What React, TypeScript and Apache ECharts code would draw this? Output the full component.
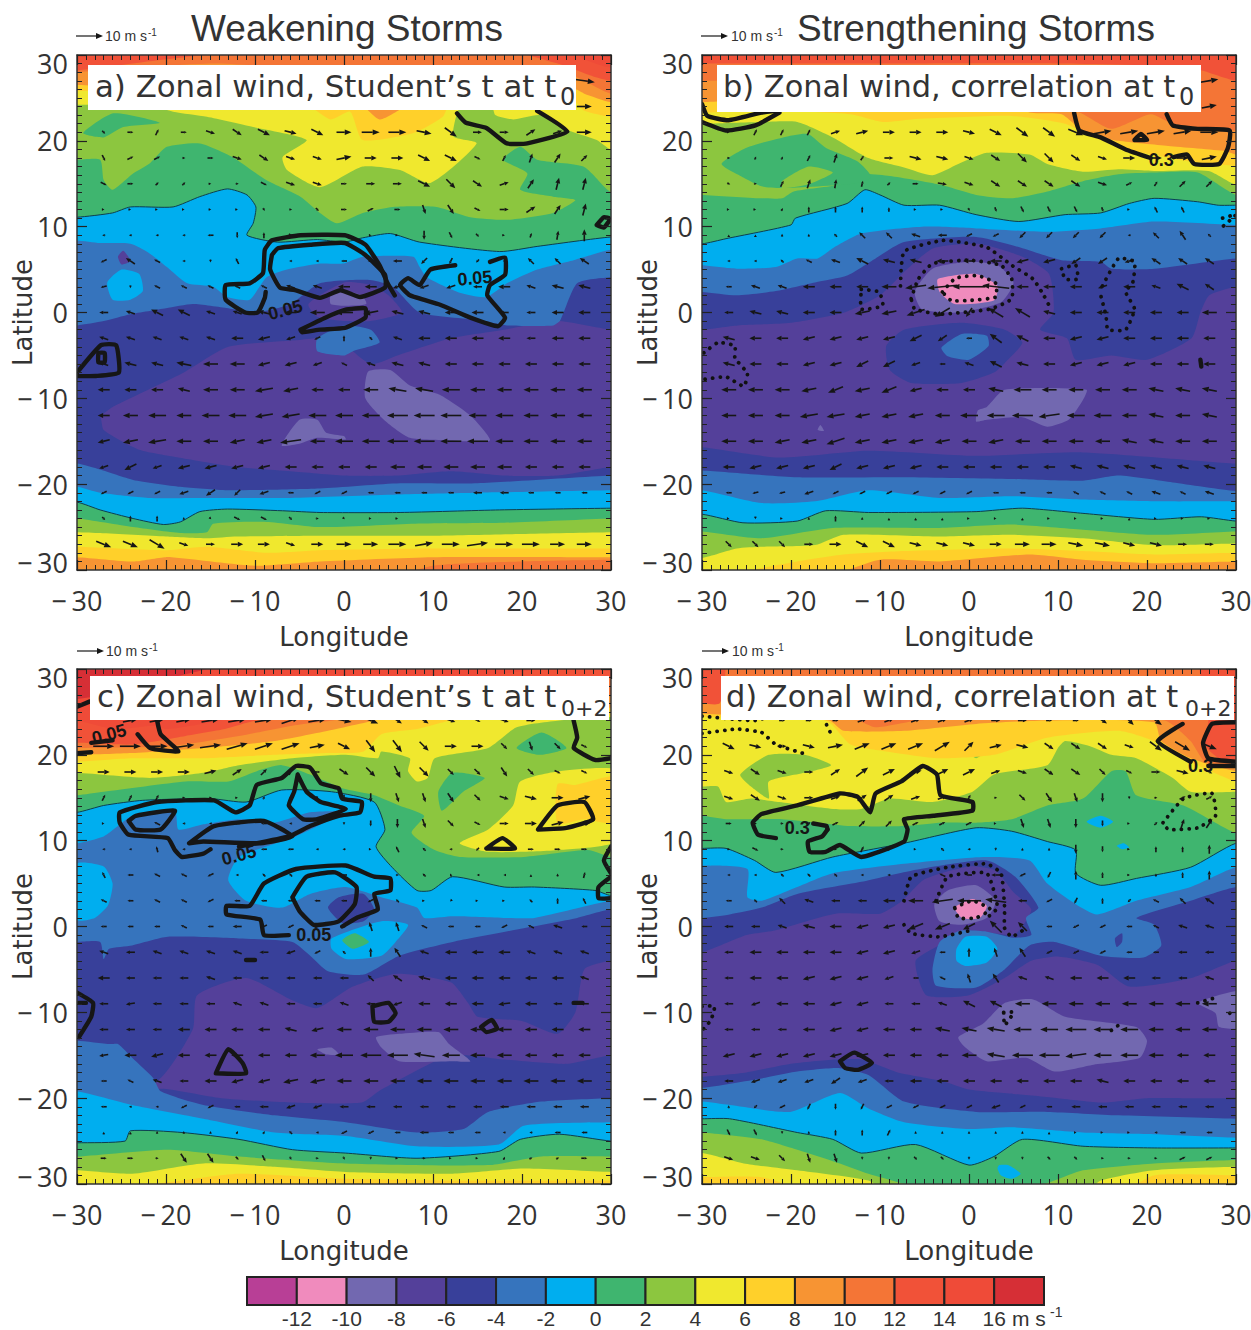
import React, { useEffect, useRef } from "react";
import * as echarts from "echarts";

const LEVELS = [-14, -12, -10, -8, -6, -4, -2, 0, 2, 4, 6, 8, 10, 12, 14, 16];
const LEVEL_COLORS = ["#b83f96", "#f08bbd", "#7268b0", "#54409a", "#38409a", "#3674bd", "#00aeef", "#3fb56f", "#8cc63f", "#f0e82e", "#ffd02a", "#f79433", "#f47536", "#f15238", "#ef4b38", "#d62f36"];
const LEGEND_TICKS = [-12, -10, -8, -6, -4, -2, 0, 2, 4, 6, 8, 10, 12, 14, 16];
const WIND_LONS = [-27, -24, -21, -18, -15, -12, -9, -6, -3, 0, 3, 6, 9, 12, 15, 18, 21, 24, 27];
const WIND_LATS = [21, 18, 15, 12, 9, 6, 3, 0, -3, -6, -9, -12, -15, -18, -21, -24, -27];

// kind N: filled northwards of the curve, S: southwards of it, B: closed patch. [kind, level, lon,lat,...]
const fillsA: any[] = [
  ["N", -6, [-27.5,-12,-26,-11,-22,-9,-18,-7,-13,-4,-5,-3.2,-1,-3,3,-6,6,-5,12,-3,18,-2,24,-1,30,-2]],
  ["S", -6, [-27.5,-12,-27,-13.7,-23,-16,-18,-17,-12,-18,-6,-18.5,0,-19,6,-19,12,-18.5,18,-19,24,-19,30,-18]],
  ["N", -4, [-30,-1.5,-27,-1,-24,-0.2,-20,0.5,-17,1,-13,0.5,-10,0,-6,1,-2.7,3.4,2.9,3.8,5.5,3,8.5,0,15.3,-0.9,18.3,-1.5,23.5,-1.5,24.3,-0.9,26.2,3.4,30,4.1]],
  ["S", -4, [-30,-17.6,-27.4,-18.3,-23.7,-19.5,-18.4,-20.3,-13.1,-20.7,-2.7,-20.5,6.3,-19.9,15,-19.9,30,-19]],
  ["N", -2, [-30,8.4,-27.4,8.1,-24,8,-22,7,-19.9,5.3,-17.6,3.4,-14.7,3,-13.1,1.8,-10.6,1.5,-8.7,4.1,-6.4,5,-2.7,5.7,-0.1,5.7,2.1,6.5,7.8,6.5,8.5,5.3,9.3,4.1,13,2.3,16,1.8,18.3,3.4,21.7,5,25.8,6.1,30,7.3]],
  ["S", -2, [-30,-20.3,-27.4,-21,-22,-21.6,-16,-21.6,-6,-21.6,6,-21.2,15,-21,30,-20.7]],
  ["N", 0, [-30,11.1,-26,11.6,-24,12.3,-19.2,12.3,-16.2,13.5,-13.1,14.4,-10.9,13.7,-9.9,12.3,-10.2,10.4,-10.9,9,-7.5,8.2,-3,8.5,0,8.2,2.1,8.7,5.2,9.2,8.5,8.2,17.5,7.1,21.7,7.7,30,8.8]],
  ["S", 0, [-30,-22.1,-27.4,-23,-23.7,-24,-20.3,-24.7,-18.4,-24.4,-16.2,-23.2,-13.1,-22.9,-6.9,-23.1,-2.7,-23.3,6.3,-23.3,17.5,-23,30,-22.8]],
  ["N", 2, [-30,17.8,-27.4,17.8,-27,15.4,-26,14.3,-23.7,16.2,-21.8,17.4,-19.9,19.3,-16.2,19.7,-12.5,18.1,-8.7,15.4,-4.9,13.5,-2.7,11.6,-0.8,10.4,2.1,11.6,5.5,12.3,10.4,12.3,14.2,11.1,18.3,10.8,23.5,11.6,26,13.1,23.5,13.5,19.8,14.3,20.6,16.2,17.9,17.8,19.8,19.3,21.7,17.8,26.9,17,29.6,14.3,31,13.5]],
  ["S", 2, [-30,-24,-23.7,-25,-18.4,-25.7,-15.4,-25.6,-14.7,-24.6,-8.7,-24.4,-2.7,-25,8,-24.6,18,-24.5,30,-24]],
  ["B", 0, [-29.3,20.9,-25.9,23.2,-20.7,22.1,-24.8,21.6,-27,20.4]],
  ["N", 4, [-30,24.2,-22,24.2,-19.2,23.4,-15.4,22.8,-10.2,21.6,-4.2,20.1,-6.9,18.1,-6.4,16.6,-2.7,14.6,2.1,17,6.3,16.6,9.7,15.1,14.9,19.7,12.3,20.5,12.7,23.2,13.5,24.5,16.5,24.5,17,23,19,22.5,22,23,25,21.3,28.4,20.1,30,19]],
  ["S", 4, [-30,-25.6,-27.4,-25.7,-20,-26.1,-15.4,-26.3,-12,-26.1,-2.7,-26,10,-26,20,-25.8,30,-25.6]],
  ["N", 6, [-30,25.8,-28,25.8,-15,25,-4,24,-1.5,22.5,0.7,23.4,2.1,20.1,7.8,20.9,11.1,22.8,12,24.5,22,26,26,24.5,27,23.5,30,22.8]],
  ["S", 6, [-30,-27.3,-20,-27.7,-15.4,-27.3,-8.7,-28,-2.7,-27.7,10,-27.5,30,-27.5]],
  ["N", 8, [-30,26.5,-20,26,1,25,4,22.5,7,24,15,26,26,26,27,25.5,30,24.5]],
  ["S", 8, [-30,-28.5,-23.7,-29,-20,-28.5,-16,-28.9,-10,-29.5,-2.7,-29,10,-28.5,30,-28.5]],
  ["N", 10, [-30,28,-15,29,-5,28.5,15,28.5,24,28,26,27.5,30,25.5]],
  ["S", 10, [-5,-32,5,-31,10,-29.5,20,-29,30,-28.8]],
  ["N", 12, [-30,28.2,-20,29.5,-10,30.5,18,30.5,24,29,28,27.5,30,27]],
  ["N", 14, [25,31,27,29.5,30,28.5]],
  ["B", -2, [-26.6,3.5,-25,5,-23,4.5,-22.6,2.5,-24,1.5,-26,1.5]],
  ["B", -4, [-3,-3,0,-1.5,3,-2,4,-3.5,1,-4.5,0,-5,-3,-4.5]],
  ["B", -8, [-4,1,0,3.5,3,3.2,5,2,6.5,0,3,-1,0,-1,-3,-0.5]],
  ["B", -10, [-1.5,2,0,2.5,2,2,2.5,1,0,0.8,-1.5,1]],
  ["B", -10, [2.7,-6.9,5.2,-6.7,7.4,-8.5,10.8,-9.6,14.2,-12,16.4,-14.9,11.9,-14.9,7.4,-14.6,4.6,-12.6,2.4,-10]],
  ["B", -10, [-7,-15.5,-5,-12.5,-3,-12.5,-2,-14,0,-14.4,0.2,-14.8,-3,-14.6,-5,-15.3]],
  ["B", -8, [-25.4,6.5,-24.8,7.2,-24,6,-25,5.6]],
];

const fillsB: any[] = [
  ["N", -6, [-30,-2,-26,-1.5,-20,-1.2,-14,0,-10,2,-7,5,-4,7.5,1,8,6,6.5,9,4.5,9.5,0,8,-2,11,-3,12,-5.5,16,-5,20,-5.5,25,-3,26,0,27,2,30,3]],
  ["S", -6, [-30,-15.7,-21.3,-16.9,-11.3,-16.1,0.8,-16.7,12.8,-16.3,30,-17.6]],
  ["N", -4, [-30,2.4,-26.1,2,-21.7,2.5,-17.3,3.5,-13.7,4.3,-10.5,6.3,-7.3,8.2,0.8,8.8,6,7.5,10.4,6.1,14.8,5.9,16,5.1,20.8,5.1,30,6.3]],
  ["S", -4, [-30,-18.4,-19.3,-19.2,-7.3,-19.2,4.8,-19.4,12.8,-19.6,16.8,-19,22.9,-19.8,30,-20.8]],
  ["N", -2, [-30,5.5,-26.1,5.1,-21.7,5.3,-19.3,6.3,-17,6.3,-15.3,7.5,-12.1,9.2,-5.3,10,0.8,9.8,8.8,9.4,14.8,9.8,20.8,10.6,30,10.2]],
  ["S", -2, [-30,-20.7,-23.3,-22.2,-17.3,-22,-11.3,-20.7,-3.3,-21.6,4.8,-21.4,12.8,-21.8,20.8,-22,30,-22]],
  ["N", 0, [-30,8,-27.3,8.6,-20,10.2,-19.5,11,-13.7,12.7,-11.7,14.3,-10,13.7,-7.3,12.5,-3.3,12.5,0.8,11.4,5.6,10.6,10.8,11.4,14.8,11.6,18,12.7,20.8,13.3,25.7,12.9,28,12.5,30,12.5]],
  ["S", 0, [-30,-23.5,-25.4,-24.5,-19.3,-24.3,-16.1,-23.1,-11.3,-23.3,0.8,-23.2,6,-22.8,12.8,-23.4,20.8,-24.1,26.1,-23.8,30,-24.3]],
  ["N", 2, [-30,13.7,-23.3,13.3,-21,13.3,-19.7,14.1,-14.5,14.9,-12.1,16.1,-8.9,15.9,-3.3,14.9,0.8,13.7,4.8,13.3,8.8,14.1,12.8,15.3,16.8,16.1,20.8,16.3,25.7,16.3,30,13.7]],
  ["S", 2, [-30,-25.5,-23.3,-26.3,-15.3,-25.1,-3.3,-25.1,4.8,-24.7,12.8,-25.3,20.8,-25.9,30,-25.5]],
  ["B", 0, [-27.8,17.3,-25,19.2,-20.9,20.4,-18.1,20.8,-16.1,19.2,-12.5,17.6,-11,15.8,-13,15,-21,14.5,-23.3,14.7,-25.3,15.7]],
  ["B", 2, [-21,15.3,-18,17,-15.3,16.3,-18.1,14.9,-21,14.5]],
  ["N", 4, [-30,22,-23.3,22.2,-19.3,22.2,-15.3,20.4,-11.3,18,-7.3,16.9,-4.1,16,-1.2,17.3,2,18.6,6.8,18.4,8.8,17.3,12.8,16.4,16.8,16.7,20.8,16.5,26.9,16.5,30,14.9]],
  ["S", 4, [-30,-28.6,-26.1,-27.5,-23.3,-27.3,-17.3,-27.1,-14.1,-25.9,-3.3,-26.1,4.8,-25.9,12.8,-26.3,20.8,-27.1,30,-26.9]],
  ["N", 6, [-30,23.3,-21.3,23.5,-13.3,23.1,-9.7,22.2,-6.5,22.5,4.8,22.9,10.8,22,14,20.4,18.8,18.8,24.9,17.6,30,17.1]],
  ["S", 6, [-30,-31,-19.3,-29,-14.1,-28.2,-7.3,-27.8,4.8,-27.5,12.8,-27.8,20.8,-28.2,30,-28]],
  ["N", 8, [-30,24.5,-20,25,0,26,6.8,23.3,10.4,23.1,13.2,20.8,16.8,20,22.4,19.4,28.9,18.8,30,18.4]],
  ["S", 8, [-30,-32,-15.3,-30.5,-10,-28.8,-3.3,-29,6.8,-28.2,12.8,-28.8,20.8,-29.2,30,-29]],
  ["N", 10, [-30,27,0,27,12.4,23.3,16,21.4,20.4,23.1,22.9,22,30,21.2]],
  ["N", 12, [-30,29,-10,29,10,29,25,28.5,30,27]],
  ["B", -6, [-9.3,-3.9,-7.3,-2,-0.8,-1.2,4,-2,6,-3.5,4,-5.9,2.8,-7,-0.8,-8.2,-6.5,-8.2,-8.9,-6.7]],
  ["B", -4, [-3.1,-4.1,-0.8,-2.5,2,-2.7,2.2,-3.9,0,-5.5,-2.4,-5.1]],
  ["B", -10, [-6.1,2.4,-4.1,5.1,0,5.9,3.2,5.5,5,3.5,3.6,1.2,-1.2,0,-5.3,0.4]],
  ["B", -12, [-3.5,3.9,0.8,4.5,3.2,3.1,2.8,1.4,-1.6,1,-3.3,2.4]],
  ["B", -10, [2,-11,4,-9,13.2,-9,12.8,-10.2,11.2,-12.5,8.8,-13.3,6,-12.2,2,-12.5,0.8,-12.7,1,-11.4]],
  ["B", -10, [-17,-13.7,-16.7,-13.1,-16.3,-13.8]],
];

const fillsC: any[] = [
  ["N", -6, [-30,-20,-21,-18,-17,-12,-16.5,-8,-11,-6,-6,-8.5,-3,-9.5,1,-7,6,-5.5,12,-6.5,14,-9,15,-10.5,20,-11,24,-12.5,26,-10,27,-5,30,-4]],
  ["S", -6, [-30,-20,-20.6,-18.9,-13.8,-20,-6,-20.5,2,-20.5,4.2,-19,12,-15,18,-15.5,25,-16,30,-15]],
  ["N", -4, [-30,-1.8,-27.4,-1.8,-27,-3.8,-26.4,-2.6,-23.8,-2.2,-19.8,-1.2,-11.8,-1.4,-5.8,-1.8,-3.8,-3.4,-1.8,-5.2,2.2,-5.6,6.2,-3.4,12.2,-1.8,20.2,-0.2,26.2,1,30,2]],
  ["S", -4, [-30,-13.3,-26.2,-13.7,-25.4,-13.7,-23.8,-15.3,-21.4,-17.7,-20.6,-19.2,-15.8,-20.8,-7.8,-22,0.2,-22.8,8.2,-24,13.4,-23.6,16.2,-21.6,22.2,-20.4,30,-20]],
  ["N", -2, [-30,9.7,-27,10.5,-25.4,11.7,-23.8,12.9,-19,13.3,-18.6,11.3,-15.8,11.9,-11.8,12.5,-7.8,12.1,-3.8,13.3,-0.2,13.3,-5.4,10.5,-11.8,8.1,-13,5.4,-11,3,-7,2.2,-3.8,3.8,0.2,4.6,4.2,3.4,8.2,2.2,9,1,12.2,1.2,18.2,1,21.4,1,30,3]],
  ["S", -2, [-30,-19.2,-23.8,-20.8,-15.8,-22.4,-7.8,-24,0.2,-24.4,8.2,-25.6,17.4,-25.4,20.2,-23.2,30,-22.8]],
  ["N", 0, [-30,13.3,-27,14.1,-22.6,14.7,-15,14.9,-11,14.5,-7,15.9,-1.4,15.7,3.4,14.5,4.6,11.3,3.6,9.3,5.4,6.9,8.2,4.2,9.8,4.2,12.2,5.8,18,4.6,21.4,4.6,28.2,4.2,30,3.6]],
  ["S", 0, [-30,-25.2,-24.6,-25,-24,-23.8,-18.2,-24,-11.8,-24.8,-5.8,-26,0.2,-26.4,8.2,-27,17.4,-26.2,19.8,-24.8,24.2,-24.2,30,-25]],
  ["N", 2, [-30,15.3,-27,15.7,-17.8,16.9,-13,16.9,-9.8,18.1,-7,18.8,-3.8,17.7,-0.2,16.1,3.4,15.3,6.2,14.1,9,12.9,7.6,10.9,10.2,8.9,13,8.1,20.2,8.1,27.4,8.9,30,8.1]],
  ["S", 2, [-30,-26.8,-19.8,-26,-11.8,-26.8,0.2,-27.6,16.2,-27.8,22.2,-26.8,30,-26.8]],
  ["B", 0, [10.6,15.7,12.2,17.9,15.8,17.3,13.4,15.7,11,13.5]],
  ["B", 0, [19.4,20.8,22.2,22.6,25,20.8,22,20]],
  ["N", 4, [-30,17.9,-21.8,17.3,-15.8,17.9,-11.8,18.8,-5.8,19.6,0.2,20,3.8,19.6,4.2,20.4,7.4,19.6,7.2,18.1,8.2,16.9,9.4,17.3,10.2,19.6,16.2,20.8,19.4,23.2,24.2,24,30,24.4]],
  ["S", 4, [-30,-28.4,-23.8,-28.8,-15.8,-27.6,-7.8,-28,0.2,-28.6,12.2,-28.8,20.2,-28.2,30,-28.6]],
  ["B", 4, [13,9.7,16.2,11.3,19,14.1,19.8,16.9,24.2,18.1,31,18.1,31,10.1,24.2,8.9,16.2,8.7]],
  ["N", 6, [-30,19.2,-23.8,19.6,-15.8,19.6,-7.8,20,-1.8,20.2,2.2,20.4,4.2,22.4,8.2,23,12.2,24,30,24.6]],
  ["S", 6, [-30,-31,-19.8,-29.8,-11.8,-28.8,0.2,-29.4,12.2,-29.6,30,-29.6]],
  ["B", 6, [24,16.6,26,16.5,31,17.5,31,12,27,12.5,24,12]],
  ["N", 8, [-30,20,-23.8,20.2,-15.8,20.8,-7.8,21.6,-1.8,22.8,4.4,24.2,8.2,24.8,30,25.5]],
  ["N", 10, [-30,20.8,-19.8,21,-11.8,22.2,-5.8,23.4,0.2,24.2,10,26,30,27]],
  ["N", 12, [-30,21.4,-23.8,21.2,-17.8,22.2,-13.4,23,-9.8,24,-3.8,24.4,10,27,30,29]],
  ["N", 14, [-30,24,-25.8,23,-21.4,23.4,-19.8,23,-13.8,24,-11,24.6,0,27,30,31]],
  ["N", 16, [-30,26.5,-27,27,-10,31]],
  ["B", -2, [-30,7.3,-27,7,-26,5,-26.5,2.5,-28,1,-30,0.8]],
  ["B", -2, [-1.4,-1.4,4.2,0.6,7.2,0.2,5.8,-1.8,4.2,-3.4,0.2,-3.8,-1.4,-2.6]],
  ["B", 0, [-0.2,-1.6,1.2,-0.8,2.8,-1.8,1,-2.6]],
  ["B", -6, [-1.8,2.2,-0.6,3.4,2.2,3.8,3.4,2,2.2,0.6,-0.2,0.4]],
  ["B", -10, [3.6,-12.9,6.2,-12.5,10.6,-12.3,11.8,-13.7,14.2,-15.7,12.2,-15.7,6.2,-15.7,4.2,-14.1]],
  ["B", -10, [-3,-14.3,-1.4,-14.1,-0.6,-14.9,-2,-14.9]],
];

const fillsD: any[] = [
  ["N", -6, [-30,-3,-25,-1,-22,-0.5,-15,1.5,-10,1.5,-7.5,3,-5,5.5,0,7,3,6.5,5,4,7,2,6,0,5,-1,0,-0.5,-3,-2,-6,-4,-4.8,-8,0,-8,4,-6,7,-4,10,-3.5,14.5,-4.5,18,-7,25,-6,30,-4]],
  ["S", -6, [-30,-17.5,-25,-17,-20,-16,-15,-15.5,-12,-15.5,-8,-17,-3,-18,0,-19,5,-19.5,10,-20,15,-20.5,20,-20,25,-20,30,-20]],
  ["N", -4, [-30,1,-26.9,1.4,-23.3,2.2,-19.3,3.8,-12.1,5.2,-6.5,6.5,2,7.7,5.2,5.8,7.8,2.2,6.4,1,7,-1,5,-1.3,2,-0.6,-1,-0.5,-3.3,-1.8,-4.1,-5,-3.7,-6.9,0.8,-7.1,4,-5,6.8,-2.2,9.6,-1.8,14.8,-3.4,19.6,-3.6,21.6,-2.2,20.8,0.2,18.8,1,24.9,3,30,4.6]],
  ["S", -4, [-30,-18.8,-23.3,-17.7,-19.3,-16.9,-14.5,-16.5,-11.3,-17.3,-7.3,-20.4,0.8,-21.6,8.8,-21.6,16.8,-22,30,-22.4]],
  ["N", -2, [-30,7.1,-24.9,6.7,-24.9,3.4,-23.3,3,-19.3,4.6,-15.3,6.2,-7.3,7.3,1.6,8.1,6.8,7.7,8.8,5,12,2.6,14.4,1.4,18.8,3,24.9,4.6,30,6.9]],
  ["S", -2, [-30,-20.4,-26.9,-20.8,-20.1,-21.6,-14.5,-19.4,-11.3,-21.2,-7.3,-22.8,0,-23.6,4.8,-23.4,12.8,-24,20.8,-24.2,30,-24.6]],
  ["N", 0, [-30,9.1,-27.3,9.1,-24.1,7.7,-21.7,6.3,-15.3,8.1,-7.3,9.7,0.8,11.5,4.8,11.1,8.8,9.9,12,8.9,12,6.2,14.8,4.8,18.8,5.6,24.9,6.9,30,9.7]],
  ["S", 0, [-30,-22.4,-26.9,-22.4,-19.3,-24,-15.3,-24.8,-12.1,-26.4,-6,-25.4,0,-27.8,2.8,-26.8,6,-24.8,12.8,-25.6,20.8,-25.8,30,-25.8]],
  ["N", 2, [-30,12.9,-27.3,12.5,-21,12.5,-13.3,11.7,-7.3,11.7,-3.3,12.1,0.8,12.1,4.8,12.5,8.8,14.1,12.8,14.9,16,18.1,17.6,18.1,18.8,15.3,24.1,14.1,30,10.9]],
  ["S", 2, [-30,-24,-23.3,-24.8,-19.3,-26,-14.5,-27.6,-11.3,-28.8,-5,-30.5,5,-31,9.6,-29.6,12.8,-28.4,20.8,-27.6,30,-27.2]],
  ["N", 4, [-30,16.3,-28.2,16.3,-27.3,14.5,-24.5,14.9,-21.3,14.5,-15.3,13.7,-12.1,13.7,-8.9,14.9,-4.1,14.5,0.4,15.7,2.8,17.7,8.8,18.8,10,20.8,10.8,21.6,13.6,21,16,20,18.8,19.6,22.9,17.3,24.9,15.7,30,15.7]],
  ["S", 4, [-30,-26.4,-25.3,-27.6,-19.3,-28.4,-11.3,-29.6,-9,-31,13,-31,14.8,-29.6,20.8,-28.4,30,-28]],
  ["B", 2, [-25.7,17.7,-22.5,20,-18.5,20,-15.5,18.8,-18.5,17.9,-22.5,16.9,-22.5,14.9,-24.5,16.3]],
  ["B", 2, [-0.2,20.4,0.8,20.8,1.6,20.2,0.8,19.6]],
  ["N", 6, [-30,24.4,-16.1,24,-13.3,21.2,-9.3,20.4,-3.3,19.6,2.8,20,8.8,22,16.8,22.8,20.8,21.6,24.9,19.2,30,16.9]],
  ["S", 6, [-30,-29.2,-23.3,-29.2,-19,-30.5,-10,-32,10,-32,17,-31,20.8,-29,30,-29]],
  ["N", 8, [-30,24.8,-15.7,24,-14.1,22.8,-7.3,22.8,0.8,23.6,8.8,24,20.8,23.8,21.6,21.6,24.9,19.6,30,18.1]],
  ["N", 10, [-30,26.8,-12.5,24,-10.5,23.2,-5.7,24,8.8,24.8,22,24,24.9,21.6,26.5,19.2,30,18.9]],
  ["B", 12, [-31,26.5,-28,26,-27.5,31,-31,31]],
  ["B", 12, [26,31,26.9,24,26.5,21.2,28.1,19.6,31,19.6,31,31]],
  ["B", -2, [-1.4,-2.6,-0.4,-1.2,2,-1.2,3.2,-2.6,2,-4.2,-0.4,-4.6,-1.4,-4]],
  ["B", -10, [-3.9,2.6,-2.4,4.2,0.8,4.8,3,3,2,1,-0.8,0.2,-3.3,0.6]],
  ["B", -12, [-1.6,2.2,0.4,3.2,2,2.4,1.2,1,-0.8,1]],
  ["B", -10, [-1.2,-12.9,1.6,-11.3,4,-8.9,7.2,-8.5,10.8,-10.5,18.8,-11.7,20,-13.3,19.2,-15.3,14,-16.1,9.6,-16.9,6.4,-15.3,2,-15.7,-0.4,-14.1]],
  ["B", -10, [25.7,-8.9,31,-7.5,31,-11.7,28.1,-11.7,27.7,-10.1]],
  ["B", -2, [13.2,12.2,14.8,12.9,16.2,12.2,14.8,11.5]],
  ["B", -2, [16.6,9.4,17.4,9.7,18,9.2,17.2,9]],
  ["B", -2, [3.4,-27.8,4.4,-27.8,5.8,-28.8,4.8,-29.4,3.6,-29,3.2,-28.2]],
  ["B", -6, [16.4,-1.4,17.2,-0.8,17.2,-1.8,16.6,-2.4]],
];

// [style, closed, lon,lat,...]  solid = significance contour, dot = correlation contour
const linesA: any[] = [
  ["solid", 0, [5.7,2,4.9,3.4,4,5.5,2.4,7.9,0.1,9,-4.9,9,-8.1,8.4,-8.9,7.3,-9.1,4.6,-10.6,3.4,-13.3,3.2,-13.3,1.5,-11.1,0,-9.7,0,-8.9,1.7,-8.8,2.4]],
  ["solid", 1, [-8.1,6.7,-7.4,7.5,-3.8,7.9,0.1,8.1,2.4,6.7,4.6,4.4,4.6,2.9,1.8,1.8,-0.4,2.6,-2.7,1.7,-5.5,2.6,-7.2,2.9,-8.3,5]],
  ["solid", 0, [12.5,5.5,9.7,5,8.5,3.2,7.2,4,6.3,3.2,7.4,2,10.8,0.9,14.2,-0.6,17.3,-1.6,18.1,-0.6,16.1,2,16.4,3.2,18.1,4.4,18.1,6.4,16.4,5.9]],
  ["solid", 1, [-4.9,-2,-2.1,-0.6,0.1,0.3,2.4,0.5,2.4,-0.6,0.1,-1.8,-2.7,-2,-4.7,-2.3]],
  ["solid", 0, [-30,-7,-27.3,-3.8,-25.6,-3.8,-25.3,-7,-27.9,-7.4,-30,-7.4]],
  ["solid", 1, [-27.6,-4.7,-26.9,-4.7,-26.9,-5.8,-27.6,-5.8]],
  ["solid", 0, [12.7,23.2,13.7,22.1,16,21.5,18.3,19.7,20.6,19.7,25.1,21.1,21.7,23.5]],
  ["solid", 1, [28.4,10.2,29.2,11.1,29.9,10.9,29.2,9.9]],
];
const labelsA: any[] = [["0.05", -6.6, 0.3, 15], ["0.05", 14.7, 4, 5]];

const linesB: any[] = [
  ["solid", 0, [-30,24.3,-29.4,22.9,-27,22.4,-23.3,23.3,-21.5,23.5]],
  ["solid", 0, [-30,22.2,-27.3,21.2,-24,21.8,-21.3,23.3]],
  ["solid", 0, [11.8,23.3,12.4,21.2,14.8,20.4,17.6,19,20.4,18]],
  ["solid", 0, [23,18.1,24.5,18.4,25.3,17.3,28.1,17.3,29.1,19.2,29.3,21.2,25.7,21.4,22.9,21.8,22.2,23.1]],
  ["solid", 1, [18.6,20.1,19.3,20.8,20,20.1]],
  ["dot", 0, [-7.7,3.1,-7.3,7.1,-2.9,8.4,2,7.6,4.8,5.5,7.2,3.9,8.4,2,9.2,0.4]],
  ["dot", 1, [-6.5,1.6,-5.7,3.9,-4.1,5.7,0,6.1,3.6,5.5,4.8,3.9,4.8,1.6,2.4,0.4,-3.3,-0.2,-6.1,0.4]],
  ["dot", 1, [-3,2.4,-1.5,4,1,4.3,3,3.4,3,1.8,0,1.4,-2,1.4]],
  ["dot", 1, [-12.1,2.7,-10.1,2.4,-9.7,0.8,-12.1,0.4]],
  ["dot", 1, [10.4,5.1,12,5.5,12.2,3.9,10.8,3.9]],
  ["dot", 0, [15,3.1,16.8,6.3,18.6,5.9,18.4,3.5,17.6,2.4,18.6,0.4,17.6,-2,15.6,-2,15.4,-0.4,14.8,2]],
  ["dot", 0, [-29.8,-4.7,-28.2,-3.5,-26.3,-3.9,-26.3,-5.3,-24.9,-7.1,-25.3,-8.6,-27.3,-7.5,-29.8,-7.8]],
  ["dot", 0, [28.5,11,30,11.4,28.5,10]],
  ["solid", 0, [26,-5.5,26.1,-6.3]],
];
const labelsB: any[] = [["0.3", 21.6, 17.8, 0]];

const linesC: any[] = [
  ["solid", 0, [-15,9,-15.8,8.5,-18.2,8.1,-19,8.9,-19.8,10.3,-24.2,10.7,-25.2,12.1,-25.2,13.3,-21,14.5,-14.6,14.7,-12.2,13.3,-10.6,14.1,-9.8,16.5,-7,17.3,-5.4,18.7,-3.8,18.5,-2.6,16.7,-0.6,16.1,-0.2,14.9,2,14.5,1.8,13.3,-0.6,12.9,-3.8,11.7,-6.2,10.5,-11.8,9.3]],
  ["solid", 1, [-24.2,12.3,-23.4,12.9,-19,13.5,-20.6,11.3,-23.4,11.3]],
  ["solid", 1, [-17.4,9.7,-14.6,11.7,-9,12.3,-5.8,10.5,-9.4,9.7,-15.8,9.9]],
  ["solid", 1, [-5.2,17.7,-4.2,15.7,-2.6,14.5,0.2,13.7,-3,12.5,-4.6,12.5,-6.2,14.1,-5.6,15.7]],
  ["solid", 0, [-6.2,-1,-9,-1,-9.4,0.8,-13.2,1.4,-13.2,2.4,-10.6,2.4,-9,5,-5.4,6.7,0.2,7.1,3.4,5.8,5.2,5.6,5.2,4.2,3.4,3.8,3.8,2,1.4,1,-0.2,0]],
  ["solid", 1, [-5.8,3.4,-4.2,5.8,-1,6.3,1.4,4.6,1.2,2.6,-0.6,0.6,-3.4,0.2,-5,1.8]],
  ["solid", 0, [-28.4,21.4,-26,21.7]],
  ["solid", 0, [-23.2,22.4,-21.8,20.8,-18.6,20.4,-20.6,22.4,-21,24]],
  ["solid", 0, [-30,20.2,-28.4,20.3]],
  ["solid", 0, [-30,25.6,-28.6,26.2]],
  ["solid", 0, [25.8,24,26.2,22,25.8,20.8,28.2,19.4,30,19.6]],
  ["solid", 1, [21.8,11.3,24,14.1,27,14.5,28,12.5,25,11.5]],
  ["solid", 1, [16,9.1,17.8,10.3,19.2,9.1]],
  ["solid", 0, [30,9.3,29.2,7.7,30,6.2]],
  ["solid", 0, [30,5.8,28.6,4.6,28.6,3.3,30,3.3]],
  ["solid", 1, [3.2,-9.3,5,-8.9,5.8,-10.1,5,-11.1,3.4,-11.1]],
  ["solid", 1, [15.4,-11.7,16.6,-10.9,17.2,-11.9,16,-12.3]],
  ["solid", 1, [-14.4,-17.1,-13,-14.3,-11.4,-15.9,-11,-17.1]],
  ["solid", 0, [-30,-7.7,-28.2,-8.9,-28.4,-10.5,-29.8,-12.9]],
  ["solid", 0, [-11,-3.9,-10,-3.9]],
  ["solid", 0, [25.8,-8.9,26.8,-8.9]],
  ["solid", 0, [-29.8,-8.9,-29,-8.9]],
];
const labelsC: any[] = [["0.05", -26.4, 22.4, 15], ["0.05", -11.8, 8.3, 15], ["0.05", -3.4, -1, 0]];

const linesD: any[] = [
  ["solid", 0, [-15.9,11.3,-16.5,10.5,-18.1,9.9,-17.9,8.7,-16.1,8.7,-14.5,9.5,-12.1,8.1,-7.3,9.9,-6.9,11.3,-7.3,12.5,-4,12.9,0.4,13.5,0.4,14.5,-3.2,15.3,-3.6,17.7,-5.2,18.7,-7.6,16.9,-10.5,15.5,-11.1,13.3,-12.5,15.1,-14.5,15.5,-19.3,14.1,-23.3,13.1,-24.3,12.1,-23.7,10.7,-21.7,10.3]],
  ["solid", 0, [-17.5,12,-16,11.7,-15.9,11.3]],
  ["solid", 0, [24,23.6,21.2,21.6,24.9,19.2]],
  ["solid", 0, [30,23.8,27.3,23.6,26.3,21.4,26.9,19.6,30,19.2]],
  ["solid", 0, [26.9,18.7,30,18.7]],
  ["solid", 1, [-14.5,-15.7,-12.9,-14.7,-10.9,-15.9,-12.5,-16.7,-13.9,-16.5]],
  ["dot", 0, [-30,22.5,-26.1,23,-23.3,22.6,-21.7,21.2,-18.1,20]],
  ["dot", 0, [-30,24.5,-27,24.2,-24,24,-22,24.6]],
  ["dot", 0, [-16,23.5,-15.3,22]],
  ["dot", 0, [-7.3,3,-6.5,5.8,-2.4,6.9,2,7.3,3.6,6.2,4,2.2,4,-0.2,4.8,-1.2,6.4,-0.2]],
  ["dot", 0, [-7.3,0.2,-6.5,-0.8,-3.3,-1.2,0,-0.5]],
  ["dot", 0, [-3.7,3,-2.4,5.8,2,6.2,3.2,2.2,2,1]],
  ["dot", 1, [-1.6,2.2,0.4,3,2.4,2,0.8,1,-1.2,1]],
  ["dot", 1, [21.8,12.1,24.1,14.9,27.3,15.5,27.7,12.9,25.7,11.5,22.4,11.3]],
  ["dot", 0, [-30,-9.3,-28.6,-9.3,-29,-10.9,-30,-12.1]],
  ["dot", 1, [3.9,-10,5,-10,4,-11.5]],
  ["dot", 0, [16,-12.1,16.8,-11.5]],
  ["dot", 0, [25.7,-8.9,27.7,-8.3]],
  ["dot", 0, [29.3,-10.1,29.8,-10.8]],
];
const labelsD: any[] = [["0.3", -19.3, 11.5, 0], ["0.3", 26, 18.7, 0]];

// rows follow WIND_LATS, u,v pairs follow WIND_LONS
const windA = [
  [1,-1,2,0,1,2,2,0,3,-1,3,-2,4,-2,4,-1,4,-2,5,0,6,0,6,0,5,-1,4,-3,3,0,3,0,3,2,3,1,5,0],
  [1,-2,2,1,2,1,1,0,2,0,3,-1,3,-2,3,-1,3,-1,5,1,4,0,4,0,4,-2,4,-2,2,-1,1,2,1,3,2,3,2,2],
  [2,-1,2,0,1,1,1,1,0.5,0,1,0,2,-1,3,-1,3,-1,2,0,3,0,3,0,4,-2,3,-3,3,-2,3,1,2,3,1,4,1,4],
  [0.5,0,0.5,0,0.5,0,0.5,0,0.5,0,0.5,0,0.5,-1,1,0,1,-1,2,0,2,1,2,0,1,-3,2,-3,2,-1,3,0,3,2,2,3,1,4],
  [-1,0,-1,0,-1,0,-1,0,-2,0,0,-2,0,2,1,-1,1,-1,-1,0,0.5,0,0.5,0,0,-3,1,-2,1,-1,0.5,0,0.5,1.5,0.5,3,0,4],
  [-2,-1,-3,2,-2,1,-1,0,0,-1,-1,2,-1,1,-1,0,-1,0,-2,0,-2,0,-3,0,-2,-2,-1,-2,-1,-1,-1,0,-2,2,-2,2,-3,2],
  [-2,-0.5,0,-1,-2,1,-2,1,-2,1,-2,1,-2,1,-3,1,-3,1,-4,0,-4,0,-3,-1,-3,-1,-3,-1,-3,0,-4,0,-3,1,-4,1,-4,1],
  [-3,0,-3,1,-4,2,-4,2,-3,1,-3,1,-4,1,-4,0,-5,0,-6,0,-5,-1,-4,1,-4,1,-4,0,-4,0,-3,0,-3,0,-4,0,-4,0],
  [-3,1,-3,1,-3,1,-3,1,-3,1,-4,0,-4,-1,-3,-1,-2,-1,0,2,-1,1,-3,1,-4,0,-4,0,-4,0,-4,0,-3,0,-4,0,-4,0],
  [-3,1,-4,1,-4,1,-5,1,-5,0,-5,0,-4,-1,-4,-1,-3,-1,-2,1,-3,1,-4,1,-4,1,-4,0,-4,0,-4,0,-4,0,-4,0,-4,0],
  [-4,0,-4,0,-4,0,-4,1,-5,0,-5,0,-6,-1,-5,-1,-4,0,-4,0,-5,0,-6,1,-6,1,-6,0,-5,0,-5,0,-5,0,-5,0,-5,0],
  [-4,0,-5,0,-6,0,-5,0,-6,0,-6,0,-6,-1,-6,-1,-6,0,-6,0,-6,0,-7,0,-7,0,-7,0,-6,0,-6,0,-5,0,-5,0,-5,0],
  [-4,-1,-5,-1,-6,-1,-5,0,-5,0,-5,-1,-5,-1,-7,-1,-5,0,-6,0,-6,0,-7,0,-7,0,-7,0,-7,0,-6,0,-5,0,-5,0,-5,0],
  [-3,-1,-4,-2,-3,-1,-4,-1,-4,-1,-4,-1,-4,-1,-4,0,-4,0,-4,0,-4,0,-5,0,-5,0,-5,0,-5,0,-5,0,-4,0,-4,0,-4,0],
  [-2,-1,-2,-1,-2,-1,-3,-1,-3,-2,-2,-2,-3,-1,-2,0,-2,-1,-2,-1,-2,0,-2,0,-2,0,-2,0,-3,0,-3,0,-2,0,-2,0,-2,0],
  [1,-1,0,2,0,2,0,1,0.5,-0.5,2,-1,2,-1,1,-1,1,0,0.5,-0.5,0.5,0,0.5,0,0,0,0,0,0,0,0,0,0,0,0,0,0,0],
  [5,-2,5,-2,5,-3,3,-1,3,0,4,0,4,0,3,-1,4,0,5,0,5,0,6,0,6,1,6,0,7,1,6,0,6,0,5,0,5,0],
];
const windB = [
  [0.5,0,1,2,1,2,1,2,3,1,4,1,4,0,4,0,4,0,4,-1,4,-2,4,-3,4,-3,5,-2,6,1,6,1,6,1,6,1,6,0],
  [1,0,0.5,1,0.5,1,1,2,1,3,1,1.5,3,0,4,-1,4,-1,3,-1,3,-2,3,-3,3,-3,3,-2,3,-1,4,0,4,0,4,0,5,1],
  [1,-0.5,1,0,1,2,1,3,0.5,3,0.5,2,1,1,2,0,3,-0.5,3,-1,3,-2,3,-2,3,-2,3,-2,3,-1,2,1,1,1.5,2,2,2,2],
  [0.5,0,0.5,0,0.5,1,0,2,0,2,0,2,0,1.5,0.5,0,0.5,0,0.5,-1,0.5,-1.5,1,-2,1,-2,1,-2,0.5,-1.5,0.5,0,-1,2,-1,2,0,0],
  [0,0.5,0,0.5,0,1,0,1,-1,1,-2,2,-2,2,-3,1,-3,0,-2,-1,-2,-1,-2,-2,-2,-2,-2,-2,-2,-2,-1,0,-2,2,-2,3,-1,1],
  [-1,0,-1,0,-1,1,-2,1,-3,1,-4,2,-4,1,-4,1,-4,0,-4,0,-4,0,-4,-1,-4,-1,-3,-2,-3,-2,-3,-1,-3,2,-3,2,-3,2],
  [-2,0,-3,1,-3,1,-4,0,-4,0,-4,0,-5,0,-7,-1,-10,-1,-11,0,-9,1,-4,0,-4,0,-4,0,-3,-1,-4,0,-3,1,-4,2,-3,2],
  [-3,0,-4,1,-4,1,-4,0,-4,0,-5,-1,-5,-1,-6,-2,-5,-3,-2,-3,-5,3,-5,3,-4,1,-4,0,-4,0,-4,0,-4,0,-4,0,-5,0],
  [-4,1,-4,0,-4,0,-4,-1,-4,-1,-4,-1,-4,-1,-4,-2,-3,-2,-2,0,-4,3,-4,2,-4,0,-4,-1,-4,-1,-4,0,-4,0,-4,0,-4,0],
  [-4,1,-4,0,-4,0,-4,-1,-4,-1,-4,-2,-4,-2,-3,-1,-2,0,-3,1,-4,2,-4,1,-4,0,-4,-1,-4,-1,-4,-1,-4,0,-4,0,-4,0],
  [-5,0,-5,0,-5,0,-5,-1,-5,-2,-5,-1,-5,-2,-4,-1,-4,0,-4,0,-5,1,-6,0,-5,0,-5,0,-5,0,-5,0,-5,1,-5,1,-5,1],
  [-5,0,-5,0,-5,0,-6,-1,-6,-1,-5,-1,-5,-1,-5,-1,-5,0,-6,0,-6,0,-7,0,-7,-1,-6,0,-6,0,-5,0,-5,1,-5,0,-5,1],
  [-5,0,-5,0,-5,-1,-5,-1,-6,-2,-5,-1,-5,-1,-5,-1,-5,-1,-5,0,-5,-1,-5,0,-5,0,-5,0,-5,0,-5,1,-5,1,-5,0,-5,0],
  [-4,0,-4,-1,-4,-1,-4,-1,-4,-2,-4,-1,-4,-1,-4,-1,-4,0,-4,0,-4,0,-4,0,-4,0,-4,1,-4,1,-4,1,-4,1,-4,1,-4,1],
  [-2,0,-2,-0.5,-2,-0.5,-3,-1,-2,-1,-2,-1,-2,-1,-2,-1,-2,-1,-2,-1,-2,0,-2,0,-2,0,-2,1,-2,1,-2,1,-3,1,-2,1,-3,1],
  [0.5,0,0,-0.5,0.5,0,0,1,0,2,0,1,0,0.5,0,0.5,0,0.5,0.5,0,0.5,0,0,0.5,0.5,0,0.5,0,0.5,0,0,0.5,0.5,0,0.5,0,0.5,0],
  [2,-2,2,-2,2,-2,3,0,4,0,4,-2,4,-2,4,-1,4,-1,4,-1,4,0,5,0,5,0,5,-1,5,-1,4,-1,4,-1,3,0,3,0],
];
const windC = [
  [7,0,7,0,7,0,7,1,7,1,7,2,6,2,6,2,5,1,4,-2,3,-4,3,-4,3,-3,4,0,4,0,2,-2,1,-3,2,-2,2,-1],
  [4,0,4,0,4,0,4,0,4,1,3,2,2,2,1,2,2,0,3,-2,3,-3,2,-4,3,-3,2,-2,2,-2,2,-3,2,-2,2,-1,2,-1],
  [1,2,1,2,1,2,1,0,1,0,0.5,0,0.5,1,0.5,1,0.5,-1,0,-2,0,-3,1,-3,1,-3,2,-3,2,-2,3,-1,4,-1,4,0,4,1],
  [0.5,0,-1,0,-2,1,-1,0,-1,0,-2,0,-2,0,-1,0,-1,0,0,-1,0,-2,0,-3,1,-3,2,-2,2,-1,3,0,4,0,4,1,5,1],
  [-1,0,-1,0,-0.5,2,-1,0,-1,0,-1,0,-2,0,-2,0,-1,0,-1,0,0.5,0,-1,2,-1,1,-1,0,-1,-1,2,0,2,0,2,0,2,0],
  [-1,2,-2,0,-2,1,-2,1,-2,-1,-1,0,-1,1,-1,1,-1,0,-2,0,0.5,0,1,0,-1,1,-0.5,1,-0.5,0,-0.5,0,0,0.5,0,1,0.5,2],
  [-2,1,-2,0,-2,1,-2,1,-2,-1,-2,0,-2,0,-2,0,-2,0,-2,0,-2,-1,-1,1,0.5,0,-0.5,-0.5,0.5,0,0.5,0,-1,1,0,2,-1,2],
  [-2,0,-2,0,-2,0,-2,1,-2,0,-3,0,-2,-1,-2,-1,-2,-1,-1,0,-1,3,-1,3,-2,1,-2,0,-2,0,-2,-1,-2,1,-3,1,-2,0],
  [-3,1,-3,0,-3,1,-3,1,-3,1,-3,1,-3,0,-3,-1,-2,-1,-1,1,0,3,-2,3,-3,1,-4,0,-4,0,-4,0,-3,1,-3,1,-3,1],
  [-4,0,-3,0,-3,0,-3,0,-3,1,-3,0,-3,0,-3,0,-3,0,-3,0,-2,2,-3,2,-4,1,-4,0,-4,0,-4,0,-4,0,-4,0,-3,1],
  [-3,0,-3,-0.5,-3,0,-3,0,-3,0,-3,1,-3,1,-3,0,-3,0,-3,1,-3,0,-3,-1,-4,0,-4,0,-4,0,-4,-0.5,-4,0,-3,0,-3,0],
  [-3,0,-3,0,-3,0,-4,0,-4,0,-4,0,-4,0,-4,1,-4,-1,-5,0,-5,0,-5,0,-5,0,-5,0,-5,0,-5,0,-4,0,-4,0,-4,0],
  [-3,-0.5,-4,0,-4,-1,-4,0,-4,0,-4,0,-4,0,-4,0,-5,0,-6,0,-7,0,-7,0,-7,1,-6,0,-5,0,-5,0,-4,0,-4,0,-4,0],
  [-2,0,-2,1,-3,1,-3,0,-4,0,-4,-1,-4,-1,-5,-1,-5,-1,-5,0,-5,0,-5,0,-5,0,-5,0,-5,0,-5,0,-5,0,-5,0,-5,0],
  [-2,0,-1,0,-1,0,-2,-1,-2,-1,-2,0,-3,0,-3,-1,-3,-1,-3,0,-3,0,-3,0,-3,0,-3,0,-3,0,-3,0,-3,0,-3,0,-3,0],
  [0,0.5,0,0.5,0,1,0,1,0,1,0.5,1,0.5,1,-1,1,-1,0,-2,-1,-2,-1,-2,0,-3,0,-2,0,-2,0,-1,0,-1,0,-2,0,-2,0],
  [2,0,2,0,1,0,2,-3,2,-3,1,-1,1,-2,0.5,-1,1,0,0.5,-1,0,-1,0.5,0,1,0,0.5,0,0.5,0,0.5,1,1,0.5,1,0.5,2,0],
];
const windD = [
  [4,-2,4,-1,3,0,4,-1,5,1,5,2,5,2,5,2,5,3,3,3,4,1,4,-1,3,-2,3,-2,3,-2,3,-1,4,-3,5,-3,5,-2],
  [3,-1,3,-2,3,-1,3,0,3,2,4,3,4,2,4,1,4,2,4,2,3,1,3,-1,3,-2,3,-2,2,-2,2,-1,3,0,4,-1,2,-1],
  [3,-1,3,-2,3,-1,3,0,3,1,3,2,3,2,3,1,3,1,1,2,1,0,2,-2,2,-3,1,-3,0,-3,0,-1,1,0,2,1,2,1],
  [2,0,1,0,1,0,1,1,2,1,2,2,2,2,2,1,2,1,2,1,0.5,0,1,-3,1,-3,0,-3,0,-2,0.5,0,1,1,1,3,2,3],
  [1,0,2,-1,1,0,1,0,1,0,1,2,1,1,0.5,0,-1,1,-1,0,0,-1,0,1,0,1,0,-3,0,-2,0.5,0,0,2,0,2,0,3],
  [-1,0,-1,0,-1,1,-1,1,-1,1,-1,0,-1,0,-1,-1,-2,1,-2,0,-3,0,-2,-1,-1,-2,0,3,0,2,0.5,0,0,1,0,2,0,3],
  [-2,0,-1,1,-2,2,-3,1,-3,0,-3,0,-4,0,-5,0,-7,-1,-8,0,-7,1,-3,0,-2,-1,-1,-2,0,2,-1,-1,-2,1,-2,2,-3,2],
  [-3,0,-3,0,-3,1,-4,1,-4,0,-4,-1,-4,-1,-5,-2,-5,-2,-4,-2,-4,4,-3,3,-2,0,-2,-1,-2,-1,-2,0,-2,1,-3,1,-3,1],
  [-3,0,-4,0,-4,0,-4,0,-4,0,-4,-1,-4,-1,-3,-1,-2,0,0,3,-1,3,-2,3,-2,-1,-2,-1,-2,-1,-2,0,-2,0,-3,0,-3,0],
  [-3,0,-4,0,-4,0,-4,-1,-4,-1,-4,-1,-3,-1,-2,0,-2,1,-1,3,-2,3,-3,1,-3,1,-4,0,-4,0,-4,0,-3,0,-3,0,-3,1],
  [-3,0,-3,-1,-4,0,-4,0,-4,-1,-4,-1,-3,0,-3,0,-3,1,-4,2,-4,2,-5,0,-5,0,-5,0,-5,0,-5,0,-5,0,-5,0,-5,0],
  [-3,0,-3,0,-3,0,-4,0,-4,-1,-4,-1,-4,0,-4,0,-5,1,-5,1,-6,1,-6,0,-6,0,-7,0,-6,0,-6,0,-5,0,-5,0,-5,0],
  [-4,-1,-4,-1,-4,-1,-4,-1,-4,-1,-4,-1,-4,0,-4,0,-4,0,-5,0,-6,1,-7,0,-7,0,-7,-1,-6,0,-6,0,-5,0,-4,0,-4,0],
  [-3,0,-3,-1,-3,-1,-3,-1,-3,-2,-3,-1,-3,0,-4,0,-4,0,-4,0,-4,0,-4,0,-4,0,-4,0,-4,1,-4,0,-4,0,-4,0,-4,0],
  [0,1,-1,-1,-2,-1,-1,-2,0,-2,-1,-2,-2,-1,-2,-1,-2,-1,-2,-1,-3,-1,-2,-1,-2,0,-3,0,-3,0,-3,0,-3,0,-3,0,-3,0],
  [1,-2,1,-2,0,-1,0,1,0,2,0,2,1,2,0,1,0,1,0,1,0,1,0,1,0,0.5,0.5,0,0.5,0,0.5,0,-1,0,-2,0,-2,0],
  [3,-1,3,-1,2,-2,1,-3,1,-3,0,-1,0,-1,1,-1,1,-1,0,-1,0,-1,0,-1,1,-1,1,-1,1,0,1,0,1,0,2,1,2,1],
];
// arrows outside the regular rows: lon, lat, u, v
const windExtraA = [[27,27,7,-1],[27,24,5,0]];
const windExtraB = [[27,27,6,1],[27,24,5,1],[-27,24,0,0]];
const windExtraC = [[-24,24,5,1],[-21,24,5,1],[-18,24,5,1],[-15,24,6,1],[-12,24,6,1],[-9,24,6,1],[-6,24,6,2],[-3,24,6,1],[0,24,5,-1],[3,24,5,-2],[6,24,3,-2],[9,24,3,-2],[12,24,3,-1],[15,24,2,-1],[18,24,3,-1],[21,24,3,0]];
const windExtraD = [[-21,24,2,0],[-18,24,2,0],[-15,24,2,0],[-12,24,3,1],[-9,24,3,1],[-6,24,3,1],[-3,24,3,1],[0,24,3,1],[3,24,3,0],[6,24,3,0],[9,24,2,0],[12,24,2,0],[15,24,3,-2],[18,24,3,-3],[21,24,4,-3]];

const PANELS = [
  { left: 77, top: 55, width: 534, fills: fillsA, lines: linesA, labels: labelsA, wind: windA, extra: windExtraA },
  { left: 702, top: 55, width: 534, fills: fillsB, lines: linesB, labels: labelsB, wind: windB, extra: windExtraB },
  { left: 77, top: 669, width: 534, fills: fillsC, lines: linesC, labels: labelsC, wind: windC, extra: windExtraC },
  { left: 702, top: 669, width: 534, fills: fillsD, lines: linesD, labels: labelsD, wind: windD, extra: windExtraD },
];
const PANEL_HEIGHT = 515;
const TITLES = [
  { box: [88, 65, 488, 45], text: "a) Zonal wind, Student\u2019s t at t", x: 95, y: 86, size: 30.8, sub: "0", sx: 560, sy: 97, subSize: 24 },
  { box: [717, 65, 484, 47], text: "b) Zonal wind, correlation at t", x: 723, y: 86, size: 30.4, sub: "0", sx: 1179, sy: 97, subSize: 24 },
  { box: [90, 676, 519, 44], text: "c) Zonal wind, Student\u2019s t at t", x: 97, y: 696, size: 30.8, sub: "0+2", sx: 561, sy: 708, subSize: 22 },
  { box: [721, 676, 513, 44], text: "d) Zonal wind, correlation at t", x: 726, y: 696, size: 30.4, sub: "0+2", sx: 1185, sy: 708, subSize: 22 },
];
const REF_ARROWS = [
  { x: 76, y: 36, tx: 105 },
  { x: 701, y: 36, tx: 731 },
  { x: 77, y: 651, tx: 106 },
  { x: 702, y: 651, tx: 732 },
];
const HEADINGS = [
  { text: "Weakening Storms", x: 347, y: 28 },
  { text: "Strengthening Storms", x: 976, y: 28 },
];

const TEXT = "#333333";
const INK = "#161616";
const PX_PER_MS = 3;

const colorOf = (lvl: number) => LEVEL_COLORS[LEVELS.indexOf(lvl)];
const pairs = (flat: number[]) => {
  const out: number[][] = [];
  for (let i = 0; i < flat.length; i += 2) out.push([flat[i], flat[i + 1]]);
  return out;
};
const tickText = (v: number) => (v < 0 ? "\u2212\u2009" + Math.abs(v) : String(v));

function buildFillItem(f: any[], api: any) {
  const [kind, lvl, flat] = f;
  const pts = pairs(flat);
  let ring = pts;
  if (kind === "N") ring = [[-34, pts[0][1]], ...pts, [34, pts[pts.length - 1][1]], [34, 36], [-34, 36]];
  if (kind === "S") ring = [[-34, pts[0][1]], ...pts, [34, pts[pts.length - 1][1]], [34, -36], [-34, -36]];
  const thin = lvl === 0 && kind !== "B";
  return {
    type: "polygon",
    shape: { points: ring.map((p) => api.coord(p)), smooth: 0.2 },
    style: { fill: colorOf(lvl), stroke: thin ? "#0e3f4f" : "none", lineWidth: thin ? 1 : 0 },
  };
}

function buildArrow(a: number[], api: any) {
  const c = api.coord([a[0], a[1]]);
  const dx = a[2] * PX_PER_MS;
  const dy = -a[3] * PX_PER_MS;
  const len = Math.hypot(dx, dy);
  if (len === 0) return { type: "group", children: [] };
  const ux = dx / len;
  const uy = dy / len;
  const tip = [c[0] + dx / 2, c[1] + dy / 2];
  const tail = [c[0] - dx / 2, c[1] - dy / 2];
  const hl = Math.min(7, Math.max(2.5, len * 0.45));
  const hw = Math.min(2.8, Math.max(1.3, len * 0.2));
  const base = [tip[0] - ux * hl, tip[1] - uy * hl];
  return {
    type: "group",
    children: [
      { type: "line", shape: { x1: tail[0], y1: tail[1], x2: base[0], y2: base[1] }, style: { stroke: INK, lineWidth: 1.6 } },
      {
        type: "polygon",
        shape: { points: [tip, [base[0] - uy * hw, base[1] + ux * hw], [base[0] + uy * hw, base[1] - ux * hw]] },
        style: { fill: INK },
      },
    ],
  };
}

function buildOption() {
  const grid: any[] = [];
  const xAxis: any[] = [];
  const yAxis: any[] = [];
  const series: any[] = [];
  const graphic: any[] = [];

  PANELS.forEach((p, i) => {
    grid.push({ left: p.left, top: p.top, width: p.width, height: PANEL_HEIGHT, containLabel: false, outerBoundsMode: "none" });
    const ticks = {
      axisLine: { show: true, onZero: false, lineStyle: { color: "#333", width: 1.5 } },
      axisTick: { show: true, inside: true, length: 10, lineStyle: { color: "#222", width: 1.2 } },
      minorTick: { show: true, splitNumber: 10, length: 5, lineStyle: { color: "#222", width: 1 } },
      splitLine: { show: false },
      minorSplitLine: { show: false },
    };
    const base = { type: "value", min: -30, max: 30, interval: 10, gridIndex: i, z: 10 };
    xAxis.push({
      ...base, ...ticks, position: "bottom", name: "Longitude", nameLocation: "middle", nameGap: 54, nameMoveOverlap: false,
      nameTextStyle: { fontFamily: "DejaVu Sans", fontSize: 26, color: TEXT },
      axisLabel: { margin: 17, fontFamily: "Open Sans", fontSize: 27, color: TEXT, formatter: tickText, showMinLabel: true, showMaxLabel: true },
    });
    xAxis.push({ ...base, ...ticks, position: "top", axisLabel: { show: false } });
    yAxis.push({
      ...base, ...ticks, position: "left", name: "Latitude", nameLocation: "middle", nameGap: 41, nameRotate: 90, nameMoveOverlap: false,
      nameTextStyle: { fontFamily: "DejaVu Sans", fontSize: 26, color: TEXT },
      axisLabel: {
        margin: 9, fontFamily: "Open Sans", fontSize: 27, color: TEXT, formatter: tickText, lineHeight: 16,
        verticalAlignMaxLabel: "top", verticalAlignMinLabel: "bottom", showMinLabel: true, showMaxLabel: true,
      },
    });
    yAxis.push({ ...base, ...ticks, position: "right", axisLabel: { show: false } });

    const xi = i * 2;
    const common = { type: "custom", xAxisIndex: xi, yAxisIndex: xi, clip: true, silent: true, z: 2, encode: { x: 0, y: 1 } };
    series.push({
      ...common,
      name: "fills" + i,
      data: [[0, 0], ...p.fills.map((_: any, k: number) => [k, 0])],
      renderItem: (params: any, api: any) => {
        if (params.dataIndex === 0) {
          return { type: "polygon", shape: { points: [[-34, -36], [34, -36], [34, 36], [-34, 36]].map((c) => api.coord(c)) }, style: { fill: colorOf(-8) } };
        }
        return buildFillItem(p.fills[params.dataIndex - 1], api);
      },
    });
    const arrows: number[][] = [...p.extra];
    p.wind.forEach((row: number[], r: number) => {
      pairs(row).forEach((uv, c) => arrows.push([WIND_LONS[c], WIND_LATS[r], uv[0], uv[1]]));
    });
    series.push({
      ...common,
      name: "wind" + i,
      data: arrows.map((a) => [a[0], a[1]]),
      renderItem: (params: any, api: any) => buildArrow(arrows[params.dataIndex], api),
    });
    series.push({
      ...common,
      name: "contours" + i,
      data: p.lines.map((_: any, k: number) => [k, 0]),
      renderItem: (params: any, api: any) => {
        const [style, closed, flat] = p.lines[params.dataIndex];
        const pts = pairs(flat);
        if (closed) pts.push(pts[0]);
        const dot = style === "dot";
        return {
          type: "polyline",
          shape: { points: pts.map((q) => api.coord(q)), smooth: 0.15 },
          style: dot
            ? { stroke: "#111", fill: "none", lineWidth: 3.8, lineDash: [0.1, 7.5], lineCap: "round" }
            : { stroke: "#161616", fill: "none", lineWidth: 4.4, lineJoin: "round", lineCap: "round" },
        };
      },
    });
    series.push({
      ...common,
      name: "labels" + i,
      data: p.labels.map((l: any[]) => [l[1], l[2]]),
      renderItem: (params: any, api: any) => {
        const l = p.labels[params.dataIndex];
        const c = api.coord([l[1], l[2]]);
        return {
          type: "text",
          x: c[0],
          y: c[1],
          rotation: (l[3] * Math.PI) / 180,
          style: { text: l[0], fontFamily: "Liberation Sans", fontWeight: "bold", fontSize: 18, fill: "#161616", align: "center", verticalAlign: "middle" },
        };
      },
    });
  });

  // legend colour bar
  const li = PANELS.length;
  grid.push({ left: 247, top: 1277, width: 797, height: 28, outerBoundsMode: "none" });
  xAxis.push({
    type: "value", min: -14, max: 18, interval: 2, gridIndex: li,
    axisLine: { show: false }, axisTick: { show: false }, splitLine: { show: false },
    axisLabel: {
      margin: 3, fontFamily: "Liberation Sans", fontSize: 21, color: TEXT,
      formatter: (v: number) => (LEGEND_TICKS.includes(v) ? String(v) : ""),
    },
  });
  yAxis.push({ type: "value", min: 0, max: 1, gridIndex: li, show: false });
  series.push({
    type: "custom", xAxisIndex: xAxis.length - 1, yAxisIndex: yAxis.length - 1, silent: true, z: 2,
    encode: { x: 0, y: 1 },
    data: LEVELS.map((l) => [l, 0]),
    renderItem: (params: any, api: any) => {
      const lvl = LEVELS[params.dataIndex];
      const a = api.coord([lvl, 1]);
      const b = api.coord([lvl + 2, 0]);
      return {
        type: "rect",
        shape: { x: a[0], y: a[1], width: b[0] - a[0], height: b[1] - a[1] },
        style: { fill: LEVEL_COLORS[params.dataIndex], stroke: "#222", lineWidth: 2 },
      };
    },
  });

  TITLES.forEach((t) => {
    graphic.push({ type: "rect", z: 50, shape: { x: t.box[0], y: t.box[1], width: t.box[2], height: t.box[3] }, style: { fill: "#fff" } });
    graphic.push({ type: "text", z: 51, x: t.x, y: t.y, style: { text: t.text, fontFamily: "DejaVu Sans", fontSize: t.size, fill: TEXT, verticalAlign: "middle" } });
    graphic.push({ type: "text", z: 51, x: t.sx, y: t.sy, style: { text: t.sub, fontFamily: "DejaVu Sans", fontSize: t.subSize, fill: TEXT, verticalAlign: "middle" } });
  });
  HEADINGS.forEach((h) => {
    graphic.push({ type: "text", z: 51, x: h.x, y: h.y, style: { text: h.text, fontFamily: "Liberation Sans", fontSize: 37, fill: TEXT, align: "center", verticalAlign: "middle" } });
  });
  REF_ARROWS.forEach((r) => {
    graphic.push({ type: "line", z: 51, shape: { x1: r.x, y1: r.y, x2: r.x + 22, y2: r.y }, style: { stroke: INK, lineWidth: 1.2 } });
    graphic.push({ type: "polygon", z: 51, shape: { points: [[r.x + 27, r.y], [r.x + 20, r.y - 3], [r.x + 20, r.y + 3]] }, style: { fill: INK } });
    graphic.push({ type: "text", z: 51, x: r.tx, y: r.y, style: { text: "10 m s", fontFamily: "Liberation Sans", fontSize: 14, fill: TEXT, verticalAlign: "middle" } });
    graphic.push({ type: "text", z: 51, x: r.tx + 43, y: r.y - 4, style: { text: "-1", fontFamily: "Liberation Sans", fontSize: 10, fill: TEXT, verticalAlign: "middle" } });
  });
  graphic.push({ type: "text", z: 51, x: 1012, y: 1318, style: { text: "m s", fontFamily: "Liberation Sans", fontSize: 21, fill: TEXT, verticalAlign: "middle" } });
  graphic.push({ type: "text", z: 51, x: 1050, y: 1312, style: { text: "-1", fontFamily: "Liberation Sans", fontSize: 14, fill: TEXT, verticalAlign: "middle" } });

  return { animation: false, backgroundColor: "#fff", grid, xAxis, yAxis, series, graphic };
}

export default function App() {
  const ref = useRef<HTMLDivElement>(null);
  useEffect(() => {
    const chart = echarts.init(ref.current!, undefined, { renderer: "svg" });
    chart.setOption(buildOption() as any);
    return () => chart.dispose();
  }, []);
  return <div ref={ref} style={{ position: "absolute", left: 0, top: 0, width: 1251, height: 1330 }} />;
}
